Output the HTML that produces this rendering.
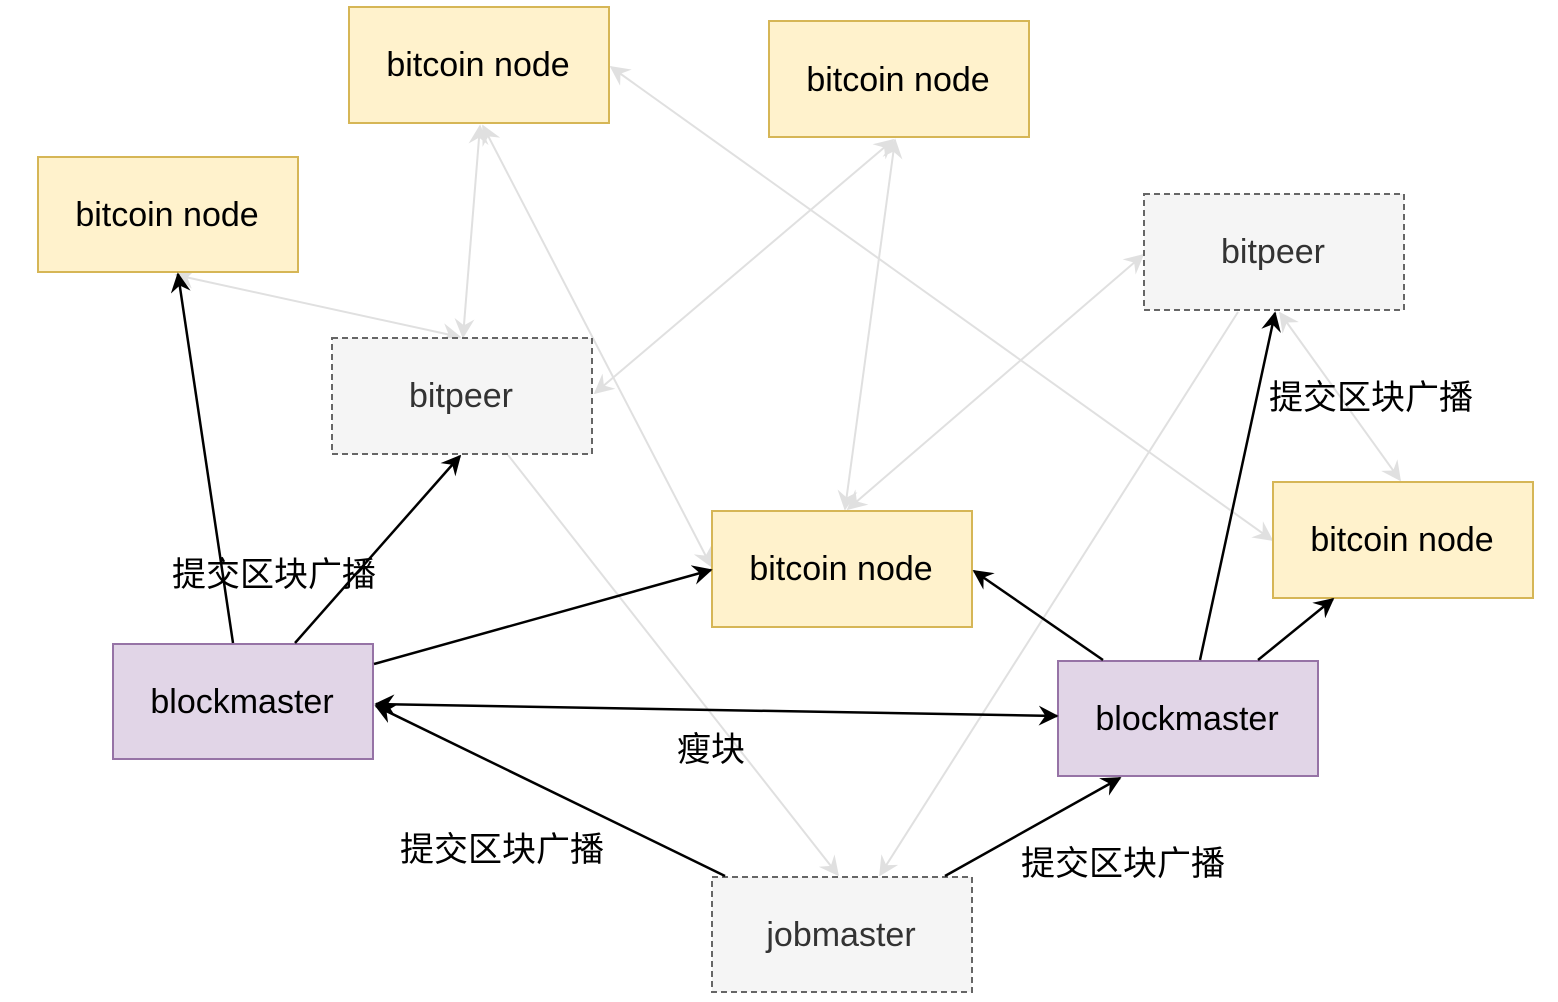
<!DOCTYPE html>
<html><head><meta charset="utf-8"><style>
html,body{margin:0;padding:0;background:#fff;}
svg{display:block;}
text{font-family:"Liberation Sans","Noto Sans CJK SC",sans-serif;}
</style></head><body>
<svg width="1558" height="1002" viewBox="0 0 1558 1002" xmlns="http://www.w3.org/2000/svg">
<defs>
<marker id="bk" viewBox="0 0 12 12" refX="11" refY="6" markerWidth="20" markerHeight="20" markerUnits="userSpaceOnUse" orient="auto-start-reverse">
<path d="M0,0 L12,6 L0,12 L4,6 Z" fill="#000"/></marker>
<marker id="gr" viewBox="0 0 12 12" refX="11" refY="6" markerWidth="20" markerHeight="20" markerUnits="userSpaceOnUse" orient="auto-start-reverse">
<path d="M0,0 L12,6 L0,12 L4,6 Z" fill="#e0e0e0"/></marker>
</defs>
<g stroke="#e0e0e0" stroke-width="2" fill="none" marker-start="url(#gr)" marker-end="url(#gr)">
<line x1="480" y1="126" x2="463" y2="337"/>
<line x1="483" y1="126" x2="711" y2="566"/>
<line x1="893" y1="140" x2="595" y2="393"/>
<line x1="895" y1="140" x2="845" y2="509"/>
<line x1="176" y1="275" x2="460" y2="337"/>
<line x1="611" y1="67" x2="1272" y2="540"/>
<line x1="1143" y1="255" x2="848" y2="509"/>
<line x1="1280" y1="313" x2="1400" y2="480"/>
</g>
<g stroke="#e0e0e0" stroke-width="2" fill="none" marker-end="url(#gr)">
<line x1="508" y1="455" x2="838" y2="875"/>
<line x1="1238" y1="312" x2="880" y2="875"/>
</g>
<g font-size="34" text-anchor="middle">
<rect x="349" y="7" width="260" height="116" fill="#fff2cc" stroke="#d6b656" stroke-width="2"/>
<text x="478" y="76">bitcoin node</text>
<rect x="769" y="21" width="260" height="116" fill="#fff2cc" stroke="#d6b656" stroke-width="2"/>
<text x="898" y="91">bitcoin node</text>
<rect x="38" y="157" width="260" height="115" fill="#fff2cc" stroke="#d6b656" stroke-width="2"/>
<text x="167" y="226">bitcoin node</text>
<rect x="712" y="511" width="260" height="116" fill="#fff2cc" stroke="#d6b656" stroke-width="2"/>
<text x="841" y="580">bitcoin node</text>
<rect x="1273" y="482" width="260" height="116" fill="#fff2cc" stroke="#d6b656" stroke-width="2"/>
<text x="1402" y="551">bitcoin node</text>
<rect x="332" y="338" width="260" height="116" fill="#f5f5f5" stroke="#666" stroke-width="2" stroke-dasharray="6,4"/>
<text x="461" y="407" fill="#333">bitpeer</text>
<rect x="1144" y="194" width="260" height="116" fill="#f5f5f5" stroke="#666" stroke-width="2" stroke-dasharray="6,4"/>
<text x="1273" y="263" fill="#333">bitpeer</text>
<rect x="712" y="877" width="260" height="115" fill="#f5f5f5" stroke="#666" stroke-width="2" stroke-dasharray="6,4"/>
<text x="841" y="946" fill="#333">jobmaster</text>
<rect x="113" y="644" width="260" height="115" fill="#e1d5e7" stroke="#9673a6" stroke-width="2"/>
<text x="242" y="713">blockmaster</text>
<rect x="1058" y="661" width="260" height="115" fill="#e1d5e7" stroke="#9673a6" stroke-width="2"/>
<text x="1187" y="730">blockmaster</text>
</g>
<g stroke="#000" stroke-width="2.5" fill="none" marker-end="url(#bk)">
<line x1="233" y1="643" x2="178" y2="274"/>
<line x1="295" y1="643" x2="460" y2="456"/>
<line x1="374" y1="664" x2="711" y2="570"/>
<line x1="376" y1="704" x2="1057" y2="716" marker-start="url(#bk)"/>
<line x1="725" y1="876" x2="376" y2="706"/>
<line x1="945" y1="876" x2="1120" y2="778"/>
<line x1="1103" y1="660" x2="974" y2="571"/>
<line x1="1200" y1="660" x2="1275" y2="313"/>
<line x1="1258" y1="660" x2="1333" y2="599"/>
</g>
<g font-size="34" fill="#000">
<text x="172" y="586">提交区块广播</text>
<text x="1269" y="409">提交区块广播</text>
<text x="400" y="861">提交区块广播</text>
<text x="1021" y="875">提交区块广播</text>
<text x="677" y="761">瘦块</text>
</g>
</svg>
</body></html>
